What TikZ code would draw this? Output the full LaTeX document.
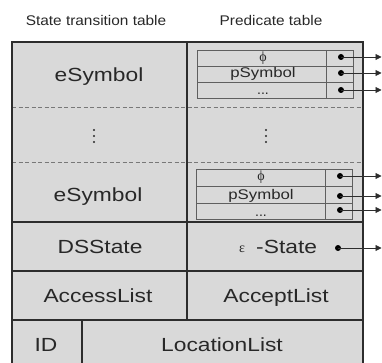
\documentclass[tikz,border=0pt]{standalone}
\usepackage{fontspec}
\setmainfont{Liberation Sans}
\newfontfamily\grk{Liberation Serif}
\usetikzlibrary{arrows.meta}
\definecolor{cellfill}{RGB}{217,217,217}
\definecolor{edge}{RGB}{45,45,45}
\definecolor{txt}{RGB}{40,40,40}
\definecolor{thinline}{RGB}{95,95,95}
\definecolor{dashcol}{RGB}{120,120,120}
\newcommand{\sx}[1]{\scalebox{1.2}[1]{#1}}
\newcommand{\tx}[1]{\scalebox{1.1}[1]{#1}}
\begin{document}
\begin{tikzpicture}[x=1pt,y=-1pt,
  big/.style={font=\fontsize{19}{19}\selectfont, text=txt, anchor=base, inner sep=0pt},
  small/.style={font=\fontsize{14}{14}\selectfont, text=txt, anchor=base, inner sep=0pt},
  greek/.style={font=\grk\fontsize{14}{14}\selectfont, text=txt, anchor=base, inner sep=0pt},
  titletext/.style={font=\fontsize{14}{14}\selectfont, text=txt, anchor=base, inner sep=0pt},
  frame/.style={draw=edge, line width=1.5pt},
  gridline/.style={draw=thinline, line width=0.8pt},
  sepline/.style={draw=dashcol, dash pattern=on 4pt off 2.5pt, line width=0.8pt},
  ptr/.style={circle, fill=black, inner sep=0pt, minimum size=6pt},
  link/.style={draw=edge, line width=0.7pt, -{Triangle[length=6pt,width=6pt]}},
  vdot/.style={fill=txt}
]
\useasboundingbox (0,0) rectangle (382,363);
\fill[white] (0,0) rectangle (382,363);

% titles
\node[titletext] (t1) at (96,25.5) {\tx{State transition table}};
\node[titletext] (t2) at (271,25.5) {\tx{Predicate table}};

% outer frame
\fill[cellfill] (12,42) rectangle (363,363);
\draw[sepline] (12,107) -- (363,107);
\draw[sepline] (12,162) -- (363,162);
\draw[frame] (12,363) -- (12,42) -- (363,42) -- (363,363);
\draw[frame] (187,42) -- (187,320);
\draw[frame] (12,222) -- (363,222);
\draw[frame] (12,271) -- (363,271);
\draw[frame] (12,320) -- (363,320);
\draw[frame] (82,320) -- (82,363);

% inner predicate table 1
\draw[gridline] (197,50) rectangle (353,98.5);
\draw[gridline] (197,66.5) -- (353,66.5);
\draw[gridline] (197,82.5) -- (353,82.5);
\draw[gridline] (326,50) -- (326,98.5);

% inner predicate table 2
\draw[gridline] (196,169) rectangle (352,219.5);
\draw[gridline] (196,186) -- (352,186);
\draw[gridline] (196,203) -- (352,203);
\draw[gridline] (325,169) -- (325,219.5);

% left column texts
\node[big] (es1) at (99,82) {\sx{eSymbol}};
\node[big] (es2) at (98,201) {\sx{eSymbol}};
\node[big] (ds) at (100,253) {\sx{DSState}};
\node[big] (acc) at (98,302) {\sx{AccessList}};
\node[big] (acp) at (276,302) {\sx{AcceptList}};
\node[big] (id) at (46,351.5) {\sx{ID}};
\node[big] (loc) at (222,351.5) {\sx{LocationList}};

% epsilon state
\node[greek] (eps) at (242,252) {ε};
\node[big, anchor=base west] (est) at (256,253) {\sx{-State}};

% predicate table texts
\node[greek] (phi1) at (263,62) {ϕ};
\node[small] (ps1) at (263,77.5) {\sx{pSymbol}};
\node[small] (el1) at (263,95) {...};
\node[greek] (phi2) at (261,181) {ϕ};
\node[small] (ps2) at (261,199.5) {\sx{pSymbol}};
\node[small] (el2) at (261,216) {...};

% vertical dots
\foreach \yy in {130,136,142} {
  \fill[vdot] (94,\yy) circle (1.2);
  \fill[vdot] (266,\yy) circle (1.2);
}

% pointers
\node[ptr] (p1) at (341,57) {};
\node[ptr] (p2) at (341,73) {};
\node[ptr] (p3) at (341,90) {};
\node[ptr] (p4) at (340,176) {};
\node[ptr] (p5) at (340,196) {};
\node[ptr] (p6) at (340,210) {};
\node[ptr] (p7) at (338,248) {};
\coordinate (e1) at (381.5,57);
\coordinate (e2) at (381.5,73);
\coordinate (e3) at (381.5,90);
\coordinate (e4) at (381.5,176);
\coordinate (e5) at (381.5,196);
\coordinate (e6) at (381.5,210);
\coordinate (e7) at (381.5,248);
\draw[link] (p1.center) -- (e1);
\draw[link] (p2.center) -- (e2);
\draw[link] (p3.center) -- (e3);
\draw[link] (p4.center) -- (e4);
\draw[link] (p5.center) -- (e5);
\draw[link] (p6.center) -- (e6);
\draw[link] (p7.center) -- (e7);
\end{tikzpicture}
\end{document}
